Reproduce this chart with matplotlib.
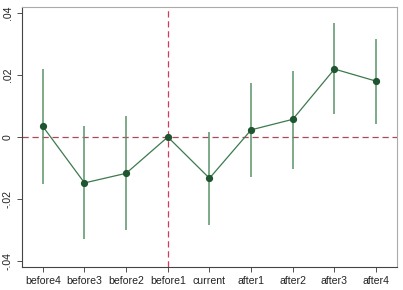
import numpy as np
import matplotlib.pyplot as plt

plt.rcParams['font.family'] = ['Liberation Sans', 'DejaVu Sans']

periods = ['before4', 'before3', 'before2', 'before1', 'current',
           'after1', 'after2', 'after3', 'after4']
coef = [0.0034, -0.0148, -0.0117, 0.0, -0.0133, 0.0023, 0.0057, 0.0219, 0.0180]
ci_low = [-0.0153, -0.0330, -0.0301, np.nan, -0.0285, -0.0128, -0.0103, 0.0073, 0.0043]
ci_high = [0.0220, 0.0034, 0.0068, np.nan, 0.0017, 0.0173, 0.0213, 0.0367, 0.0315]
yticks = [-0.04, -0.02, 0, 0.02, 0.04]
ylabels = ['-.04', '-.02', '0', '.02', '.04']

x = np.arange(1, len(periods) + 1)

fig = plt.figure(figsize=(4.03, 2.9), dpi=100)
ax = fig.add_axes([0.0546, 0.0793, 0.9304, 0.8966])

# reference lines
ax.axhline(0, color='#a84a58', lw=0.9, ls=(0, (5, 3)), zorder=1)
ax.axvline(4, color='#d43a5c', lw=0.9, ls=(0, (5, 3)), zorder=1)

# confidence intervals
for xi, lo, hi in zip(x, ci_low, ci_high):
    if not np.isnan(lo):
        ax.vlines(xi, lo, hi, color='#5a9368', lw=1.1, zorder=2)

ax.plot(x, coef, color='#3c7a4d', lw=0.9, marker='o', ms=4.2,
        mfc='#1f5530', mec='#1f5530', zorder=3)

ax.set_xlim(0.5, 9.5)
ax.set_ylim(-0.0419, 0.0419)
ax.set_xticks(x)
ax.set_xticklabels(periods, fontsize=7.6, color='#222222')
ax.set_yticks(yticks)
ax.set_yticklabels(ylabels, fontsize=7.6, rotation=90, va='center', color='#222222')
ax.tick_params(length=3.5, width=0.6, color='#333333', pad=3)

for side in ['left', 'bottom']:
    ax.spines[side].set_color('#444444')
    ax.spines[side].set_linewidth(0.8)
for side in ['top', 'right']:
    ax.spines[side].set_color('#aaaaaa')
    ax.spines[side].set_linewidth(0.8)

fig.savefig('out.png', dpi=100)
